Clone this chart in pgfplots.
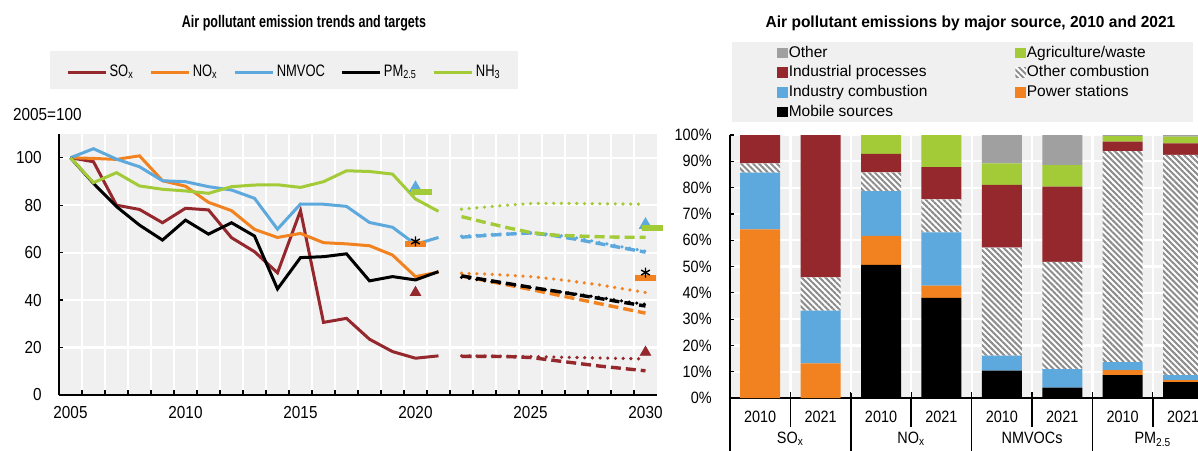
\documentclass[border=0pt]{standalone}
\usepackage{fontspec}
\setmainfont{Liberation Sans}[FakeStretch=0.88]
\newfontfamily\titleL{Liberation Sans}[FakeStretch=0.745]
\newfontfamily\titleR{Liberation Sans}[FakeStretch=0.97]
\newfontfamily\legL{Liberation Sans}[FakeStretch=0.78]
\newfontfamily\legR{Liberation Sans}
\usepackage{pgfplots}
\pgfplotsset{compat=1.18}
\usetikzlibrary{patterns.meta}
\definecolor{bgc}{HTML}{F0F0F0}
\definecolor{sox}{HTML}{95282D}
\definecolor{nox}{HTML}{F28220}
\definecolor{nmv}{HTML}{5DA9DD}
\definecolor{nh3}{HTML}{A3CB38}
\definecolor{oth}{HTML}{A0A0A0}
\definecolor{hat}{HTML}{8C8C8C}
\pgfdeclareplotmark{hbar}{\pgfpathrectangle{\pgfqpoint{-5.25pt}{-1.5pt}}{\pgfqpoint{10.5pt}{3pt}}\pgfusepathqfill}
\pgfplotsset{
  solidl/.style={line width=1.5pt, mark=none},
  dashl/.style={line width=1.7pt, mark=none, dash pattern=on 5pt off 2.5pt, forget plot},
  dotl/.style={line width=1.8pt, mark=none, line cap=round, dash pattern=on 0pt off 3.85pt, forget plot},
  sq/.style={legend image code/.code={\fill[##1] (0pt,-2.6pt) rectangle (5.2pt,2.6pt);}},
}
\begin{document}
\begin{tikzpicture}
\path[use as bounding box] (0,0) rectangle (599pt,225pt);
\clip (0,0) rectangle (599pt,225pt);
\fill[bgc] (25pt,180.5pt) rectangle (259pt,199.5pt);
\fill[bgc] (366pt,164pt) rectangle (596.5pt,204pt);
\node[font=\titleL\bfseries\fontsize{8.4}{9}\selectfont] at (152pt,213.5pt) {Air pollutant emission trends and targets};
\node[font=\titleR\bfseries\fontsize{8}{9}\selectfont] at (485.25pt,213.5pt) {Air pollutant emissions by major source, 2010 and 2021};
\node[anchor=west, inner sep=0pt, font=\fontsize{8.7}{10}\selectfont] at (6.35pt,167.5pt) {2005=100};

% ---------------- left panel ----------------
\begin{axis}[
  at={(29.5pt,27.5pt)}, anchor=south west, scale only axis,
  width=299pt, height=130.5pt,
  xmin=2004.5, xmax=2030.5, ymin=0, ymax=110,
  axis background/.style={fill=bgc},
  axis x line*=bottom, axis y line*=left,
  axis line style={black, line width=0.8pt},
  xtick={2005,2010,2015,2020,2025,2030},
  xticklabels={2005,2010,2015,2020,2025,2030},
  every major x tick/.append style={draw=none},
  minor xtick={2005.5,2006.5,...,2029.5},
  xminorgrids, minor x grid style={white, line width=1.1pt},
  ytick={0,20,...,100}, yticklabels={0,20,40,60,80,100},
  ymajorgrids, major y grid style={white, line width=1.1pt},
  tick align=inside,
  minor tick length=2.5pt, major tick length=2pt,
  tick style={black, line width=0.6pt},
  tick label style={font=\fontsize{8.7}{10}\selectfont},
  xticklabel style={anchor=base, yshift=-11.5pt},
  yticklabel style={anchor=east, inner sep=0pt, xshift=-8.5pt},
  legend columns=5,
  legend image code/.code={\draw[#1] (0pt,0pt) -- (19pt,0pt);},
  legend style={at={(axis description cs:0.012,1.2375)}, anchor=west,
    draw=none, fill=none, inner sep=0pt,
    font=\legL\fontsize{8.3}{9}\selectfont,
    nodes={inner sep=1pt},
    /tikz/every even column/.append style={column sep=7pt}},
]
\addplot[sox, solidl] coordinates {(2005,100)(2006,98.3)(2007,80)(2008,78.2)(2009,72.6)(2010,78.7)(2011,78)(2012,66.3)(2013,60.4)(2014,51.5)(2015,77.7)(2016,30.6)(2017,32.3)(2018,23.5)(2019,18.3)(2020,15.5)(2021,16.5)};
\addlegendentry{SO\textsubscript{x}}
\addplot[nox, solidl] coordinates {(2005,100)(2006,99.7)(2007,99.3)(2008,100.8)(2009,90.3)(2010,88)(2011,81.2)(2012,77.7)(2013,69.8)(2014,66.4)(2015,68.1)(2016,64.2)(2017,63.7)(2018,62.9)(2019,59)(2020,49.9)(2021,51.8)};
\addlegendentry{NO\textsubscript{x}}
\addplot[nmv, solidl] coordinates {(2005,100)(2006,103.8)(2007,99.4)(2008,96.2)(2009,90.3)(2010,89.9)(2011,87.8)(2012,86.4)(2013,82.9)(2014,69.9)(2015,80.5)(2016,80.4)(2017,79.5)(2018,72.7)(2019,70.7)(2020,63.5)(2021,66.4)};
\addlegendentry{NMVOC}
\addplot[black, solidl] coordinates {(2005,100)(2006,89.2)(2007,79.4)(2008,71.6)(2009,65.3)(2010,73.7)(2011,67.8)(2012,72.6)(2013,67)(2014,44.7)(2015,57.9)(2016,58.3)(2017,59.5)(2018,48.1)(2019,49.9)(2020,48.5)(2021,52)};
\addlegendentry{PM\textsubscript{2.5}}
\addplot[nh3, solidl] coordinates {(2005,100)(2006,89.5)(2007,93.7)(2008,88.1)(2009,86.7)(2010,86)(2011,85)(2012,87.8)(2013,88.5)(2014,88.6)(2015,87.5)(2016,89.9)(2017,94.5)(2018,94.2)(2019,93.1)(2020,82.6)(2021,77.4)};
\addlegendentry{NH\textsubscript{3}}
% projections
\addplot[sox, dashl] coordinates {(2022,16.3)(2023,16.3)(2024,16.2)(2025,15.8)(2026,14.6)(2027,13.4)(2028,12.2)(2029,11.2)(2030,10.2)};
\addplot[sox, dotl] coordinates {(2022,16.5)(2023,16.4)(2024,16.3)(2025,16.2)(2026,16)(2027,15.8)(2028,15.6)(2029,15.4)(2030,15.2)};
\addplot[nox, dashl] coordinates {(2022,50.2)(2023,48.3)(2024,46.4)(2025,44.5)(2026,42.5)(2027,40.5)(2028,38.5)(2029,36.5)(2030,34.5)};
\addplot[nox, dotl] coordinates {(2022,51.3)(2023,51)(2024,50.5)(2025,49.9)(2026,48.9)(2027,47.7)(2028,46.4)(2029,44.8)(2030,43.2)};
\addplot[nmv, dashl] coordinates {(2022,66.5)(2023,67.2)(2024,67.8)(2025,68.3)(2026,67.2)(2027,65.6)(2028,63.8)(2029,62)(2030,60.2)};
\addplot[nmv, dotl] coordinates {(2022,66.9)(2023,67.5)(2024,67.9)(2025,68.2)(2026,67.6)(2027,66.2)(2028,64.3)(2029,62.4)(2030,60.6)};
\addplot[black, dashl] coordinates {(2022,50.2)(2023,48.6)(2024,47)(2025,45.4)(2026,43.9)(2027,42.3)(2028,40.7)(2029,39.1)(2030,37.5)};
\addplot[black, dotl] coordinates {(2022,49.6)(2023,48.2)(2024,46.8)(2025,45.3)(2026,43.9)(2027,42.5)(2028,41.1)(2029,39.6)(2030,38.2)};
\addplot[nh3, dashl] coordinates {(2022,75.2)(2023,72.8)(2024,70.5)(2025,68.5)(2026,67.4)(2027,67)(2028,66.7)(2029,66.5)(2030,66.5)};
\addplot[nh3, dotl] coordinates {(2022,78.3)(2023,79.2)(2024,80)(2025,80.7)(2026,80.8)(2027,80.7)(2028,80.6)(2029,80.5)(2030,80.4)};
% targets
\addplot[only marks, forget plot, mark=triangle*, mark size=3pt, color=sox] coordinates {(2020,43.2)(2030,18)};
\addplot[only marks, forget plot, mark=triangle*, mark size=3.5pt, color=nmv] coordinates {(2020,87.2)(2030,71.7)};
\addplot[only marks, forget plot, mark=hbar, color=nh3] coordinates {(2020.25,85.5)(2030.3,70.3)};
\addplot[only marks, forget plot, mark=hbar, color=nox] coordinates {(2020,63.8)(2030,49.5)};
\addplot[only marks, forget plot, mark=asterisk, mark size=2.5pt, color=black, mark options={line width=0.7pt}] coordinates {(2020,64.7)(2030,51.6)};
\end{axis}

% ---------------- right panel ----------------
\begin{axis}[
  at={(365pt,26pt)}, anchor=south west, scale only axis,
  width=250.7pt, height=131.5pt,
  xmin=-0.5, xmax=7.8, ymin=0, ymax=100,
  ybar stacked, bar width=20pt,
  clip=false,
  axis background/.style={fill=bgc},
  axis x line*=bottom, axis y line*=left,
  axis line style={black, line width=0.8pt},
  xtick={0,...,7},
  xticklabels={2010,2021,2010,2021,2010,2021,2010,2021},
  extra x ticks={0.5,2.5,4.5,6.5},
  extra x tick labels={SO\textsubscript{x},NO\textsubscript{x},NMVOCs,PM\textsubscript{2.5}},
  extra x tick style={tick label style={yshift=-10.8pt}},
  every major x tick/.append style={draw=none},
  xminorticks=false,
  minor xtick={-0.5,0.5,...,7.5},
  xminorgrids, minor x grid style={white, line width=1.1pt},
  ytick={0,10,...,100},
  yticklabels={0\%,10\%,20\%,30\%,40\%,50\%,60\%,70\%,80\%,90\%,100\%},
  ymajorgrids, major y grid style={white, line width=1.1pt},
  ytick align=inside, major tick length=2pt,
  tick style={black, line width=0.6pt},
  tick label style={font=\fontsize{8.2}{10}\selectfont},
  xticklabel style={anchor=base, yshift=-12pt},
  yticklabel style={anchor=east, inner sep=0pt, xshift=-9pt},
  legend columns=2, reverse legend, legend cell align=left,
  legend style={at={(axis description cs:0.0937,1.346)}, anchor=north west,
    draw=none, fill=none, inner sep=0pt,
    font=\legR\fontsize{7.75}{9}\selectfont,
    nodes={inner sep=0.5pt, text height=5.8pt, text depth=1.7pt},
    row sep=1.35pt,
    /tikz/every even column/.append style={column sep=43.5pt}},
]
\addplot[fill=black, draw=none, sq] coordinates {(0,0)(1,0)(2,50.6)(3,38.1)(4,10.4)(5,3.9)(6,8.7)(7,6.0)};
\addlegendentry{Mobile sources}
\addplot[fill=nox, draw=none, sq] coordinates {(0,64.1)(1,13.2)(2,11)(3,4.6)(4,0)(5,0)(6,1.9)(7,0.8)};
\addlegendentry{Power stations}
\addplot[fill=nmv, draw=none, sq] coordinates {(0,21.6)(1,20)(2,17.1)(3,20.3)(4,5.7)(5,7.1)(6,3)(7,1.9)};
\addlegendentry{Industry combustion}
\addplot[fill=white, draw=none, postaction={pattern={Lines[angle=-45,distance=2.1pt,line width=1pt]}, pattern color=hat}, sq] coordinates {(0,3.5)(1,12.7)(2,7.1)(3,12.5)(4,41.1)(5,40.8)(6,80.3)(7,83.7)};
\addlegendentry{Other combustion}
\addplot[fill=sox, draw=none, sq] coordinates {(0,10.8)(1,54.1)(2,7)(3,12.3)(4,23.8)(5,28.6)(6,3.6)(7,4.4)};
\addlegendentry{Industrial processes}
\addplot[fill=nh3, draw=none, sq] coordinates {(0,0)(1,0)(2,7.2)(3,12.2)(4,8.2)(5,8.1)(6,2.1)(7,2.6)};
\addlegendentry{Agriculture/waste}
\addplot[fill=oth, draw=none, sq] coordinates {(0,0)(1,0)(2,0)(3,0)(4,10.8)(5,11.5)(6,0.4)(7,0.6)};
\addlegendentry{Other}
% category separators
\draw[black, line width=0.8pt] (axis cs:0.5,0) -- ++(0pt,-14.5pt);
\draw[black, line width=0.8pt] (axis cs:2.5,0) -- ++(0pt,-14.5pt);
\draw[black, line width=0.8pt] (axis cs:4.5,0) -- ++(0pt,-14.5pt);
\draw[black, line width=0.8pt] (axis cs:6.5,0) -- ++(0pt,-14.5pt);
\draw[black, line width=0.8pt] (axis cs:-0.5,0) -- ++(0pt,-32pt);
\draw[black, line width=0.8pt] (axis cs:1.5,0) ++(0pt,2.5pt) -- ++(0pt,-34pt);
\draw[black, line width=0.8pt] (axis cs:3.5,0) ++(0pt,2.5pt) -- ++(0pt,-34pt);
\draw[black, line width=0.8pt] (axis cs:5.5,0) ++(0pt,2.5pt) -- ++(0pt,-34pt);
\draw[black, line width=0.8pt] (axis cs:7.5,0) ++(0pt,2.5pt) -- ++(0pt,-34pt);
\end{axis}
\end{tikzpicture}
\end{document}
